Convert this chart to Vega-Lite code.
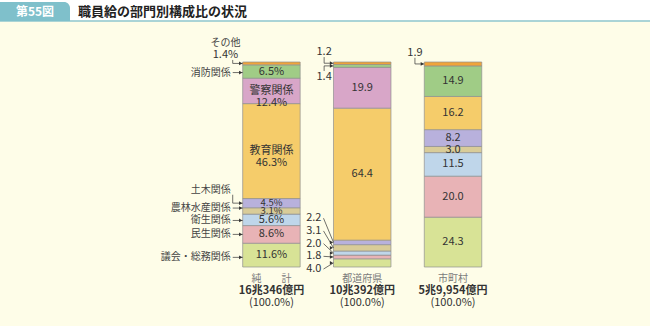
{
  "$schema": "https://vega.github.io/schema/vega-lite/v6.json",
  "width": 650,
  "height": 205,
  "autosize": {"type": "none"},
  "padding": {"left": 0, "top": 62, "right": 0, "bottom": 59},
  "background": "#fefde8",
  "config": {"view": {"stroke": null}, "font": "Noto Sans CJK JP", "text": {"lineBreak": "\n"}},
  "datasets": {
    "shares": [
      {"group": "純計", "category": "議会・総務関係", "value": 11.6},
      {"group": "純計", "category": "民生関係", "value": 8.6},
      {"group": "純計", "category": "衛生関係", "value": 5.6},
      {"group": "純計", "category": "農林水産関係", "value": 3.1},
      {"group": "純計", "category": "土木関係", "value": 4.5},
      {"group": "純計", "category": "教育関係", "value": 46.3},
      {"group": "純計", "category": "警察関係", "value": 12.4},
      {"group": "純計", "category": "消防関係", "value": 6.5},
      {"group": "純計", "category": "その他", "value": 1.4},
      {"group": "都道府県", "category": "議会・総務関係", "value": 4.0},
      {"group": "都道府県", "category": "民生関係", "value": 1.8},
      {"group": "都道府県", "category": "衛生関係", "value": 2.0},
      {"group": "都道府県", "category": "農林水産関係", "value": 3.1},
      {"group": "都道府県", "category": "土木関係", "value": 2.2},
      {"group": "都道府県", "category": "教育関係", "value": 64.4},
      {"group": "都道府県", "category": "警察関係", "value": 19.9},
      {"group": "都道府県", "category": "消防関係", "value": 1.4},
      {"group": "都道府県", "category": "その他", "value": 1.2},
      {"group": "市町村", "category": "議会・総務関係", "value": 24.3},
      {"group": "市町村", "category": "民生関係", "value": 20.0},
      {"group": "市町村", "category": "衛生関係", "value": 11.5},
      {"group": "市町村", "category": "農林水産関係", "value": 3.0},
      {"group": "市町村", "category": "土木関係", "value": 8.2},
      {"group": "市町村", "category": "教育関係", "value": 16.2},
      {"group": "市町村", "category": "消防関係", "value": 14.9},
      {"group": "市町村", "category": "その他", "value": 1.9}
    ],
    "totals": [
      {"group": "純計", "name": "純　　計", "amount": "16兆346億円", "pct": "(100.0%)"},
      {"group": "都道府県", "name": "都道府県", "amount": "10兆392億円", "pct": "(100.0%)"},
      {"group": "市町村", "name": "市町村", "amount": "5兆9,954億円", "pct": "(100.0%)"}
    ]
  },
  "layer": [
    {
      "data": {"values": [{}]},
      "mark": {"type": "rect", "fill": "#ffffff"},
      "encoding": {"x": {"value": 0}, "x2": {"value": 650}, "y": {"value": -62}, "y2": {"value": -41.5}}
    },
    {
      "data": {"values": [{}]},
      "mark": {"type": "rule", "stroke": "#8ec6cf", "strokeWidth": 1.5},
      "encoding": {"x": {"value": 0}, "x2": {"value": 650}, "y": {"value": -41}}
    },
    {
      "data": {"values": [{}]},
      "mark": {"type": "rect", "fill": "#7fc0cb", "cornerRadiusTopRight": 6},
      "encoding": {"x": {"value": 0}, "x2": {"value": 70}, "y": {"value": -60}, "y2": {"value": -41}}
    },
    {
      "data": {"values": [{"t": "第55図"}]},
      "mark": {"type": "text", "fill": "#ffffff", "fontSize": 12, "fontWeight": "bold", "align": "center", "baseline": "middle"},
      "encoding": {"x": {"value": 35}, "y": {"value": -50.5}, "text": {"field": "t"}}
    },
    {
      "data": {"values": [{"t": "職員給の部門別構成比の状況"}]},
      "mark": {"type": "text", "fill": "#222222", "fontSize": 13, "fontWeight": "bold", "align": "left", "baseline": "middle"},
      "encoding": {"x": {"value": 78}, "y": {"value": -50.5}, "text": {"field": "t"}}
    },
    {
      "data": {"name": "shares"},
      "transform": [
        {"calculate": "indexof(['純計','都道府県','市町村'], datum.group)", "as": "gi"},
        {"calculate": "indexof(['議会・総務関係','民生関係','衛生関係','農林水産関係','土木関係','教育関係','警察関係','消防関係','その他'], datum.category)", "as": "k"},
        {"stack": "value", "groupby": ["group"], "sort": [{"field": "k", "order": "ascending"}], "as": ["y0", "y1"]},
        {"calculate": "(datum.y0 + datum.y1) / 2", "as": "mid"},
        {"calculate": "datum.gi", "as": "xl"},
        {"calculate": "datum.gi + 0.633", "as": "xr"},
        {"calculate": "datum.gi + 0.3165", "as": "xc"}
      ],
      "layer": [
        {
          "mark": {"type": "rect", "stroke": "#8f8f8f", "strokeWidth": 0.7},
          "encoding": {
            "x": {"field": "xl", "type": "quantitative", "scale": {"domain": [-2.673, 4.486], "nice": false, "zero": false}, "axis": null},
            "x2": {"field": "xr"},
            "y": {"field": "y0", "type": "quantitative", "scale": {"domain": [0, 100], "nice": false, "zero": false}, "axis": null},
            "y2": {"field": "y1"},
            "fill": {"field": "category", "type": "nominal", "legend": null,
              "scale": {"domain": ["議会・総務関係","民生関係","衛生関係","農林水産関係","土木関係","教育関係","警察関係","消防関係","その他"],
                        "range": ["#d8e396","#e8b3b6","#bfd6ea","#d9cc98","#b8b1dc","#f5cc6a","#d8a6c8","#a0cc86","#f0a43a"]}}
          }
        },
        {
          "transform": [
            {"filter": "(datum.group != '都道府県' && datum.value >= 3) || datum.value >= 10"},
            {"calculate": "datum.group == '純計' ? ((datum.category == '教育関係' || datum.category == '警察関係') ? datum.category + '\\n' : '') + format(datum.value, '.1f') + '%' : format(datum.value, '.1f')", "as": "lab"}
          ],
          "mark": {"type": "text", "align": "center", "baseline": "middle", "lineHeight": 12, "fill": "#333333"},
          "encoding": {
            "x": {"field": "xc", "type": "quantitative", "scale": {"domain": [-2.673, 4.486], "nice": false, "zero": false}, "axis": null},
            "y": {"field": "mid", "type": "quantitative", "scale": {"domain": [0, 100], "nice": false, "zero": false}, "axis": null},
            "size": {"condition": {"test": "datum.group == '純計' && datum.value < 5", "value": 9.5}, "value": 11},
            "text": {"field": "lab"}
          }
        },
        {
          "transform": [
            {"filter": "datum.group == '純計' && indexof(['消防関係','農林水産関係','衛生関係','民生関係','議会・総務関係'], datum.category) >= 0"},
            {"calculate": "datum.xl - 0.11", "as": "ka"},
            {"calculate": "datum.mid + (datum.category == '農林水産関係' ? 1.4 : (datum.category == '議会・総務関係' ? -1.1 : (datum.category == '消防関係' ? -0.5 : (datum.category == '衛生関係' ? -0.3 : 0))))", "as": "ly"}
          ],
          "layer": [
            {
              "mark": {"type": "text", "fontSize": 10, "align": "right", "baseline": "middle", "dx": -12, "fill": "#444444"},
              "encoding": {
                "x": {"field": "xl", "type": "quantitative", "scale": {"domain": [-2.673, 4.486], "nice": false, "zero": false}, "axis": null},
                "y": {"field": "ly", "type": "quantitative", "scale": {"domain": [0, 100], "nice": false, "zero": false}, "axis": null},
                "text": {"field": "category"}
              }
            },
            {
              "mark": {"type": "rule", "stroke": "#333333", "strokeWidth": 0.7},
              "encoding": {
                "x": {"field": "ka", "type": "quantitative", "scale": {"domain": [-2.673, 4.486], "nice": false, "zero": false}, "axis": null},
                "x2": {"field": "xl"},
                "y": {"field": "ly", "type": "quantitative", "scale": {"domain": [0, 100], "nice": false, "zero": false}, "axis": null}
              }
            },
            {
              "mark": {"type": "point", "shape": "triangle-right", "size": 14, "filled": true, "fill": "#333333", "opacity": 1, "strokeWidth": 0, "xOffset": -2},
              "encoding": {
                "x": {"field": "xl", "type": "quantitative", "scale": {"domain": [-2.673, 4.486], "nice": false, "zero": false}, "axis": null},
                "y": {"field": "ly", "type": "quantitative", "scale": {"domain": [0, 100], "nice": false, "zero": false}, "axis": null}
              }
            }
          ]
        },
        {
          "transform": [
            {"filter": "datum.group == '純計' && datum.category == '土木関係'"},
            {"calculate": "datum.xl - 0.11", "as": "ka"},
            {"calculate": "datum.mid + 4.1", "as": "vy"},
            {"calculate": "datum.mid + 6.5", "as": "ty"}
          ],
          "layer": [
            {
              "mark": {"type": "text", "fontSize": 10, "align": "right", "baseline": "middle", "dx": -12, "fill": "#444444"},
              "encoding": {
                "x": {"field": "xl", "type": "quantitative", "scale": {"domain": [-2.673, 4.486], "nice": false, "zero": false}, "axis": null},
                "y": {"field": "ty", "type": "quantitative", "scale": {"domain": [0, 100], "nice": false, "zero": false}, "axis": null},
                "text": {"field": "category"}
              }
            },
            {
              "mark": {"type": "rule", "stroke": "#333333", "strokeWidth": 0.7},
              "encoding": {
                "x": {"field": "ka", "type": "quantitative", "scale": {"domain": [-2.673, 4.486], "nice": false, "zero": false}, "axis": null},
                "y": {"field": "mid", "type": "quantitative", "scale": {"domain": [0, 100], "nice": false, "zero": false}, "axis": null},
                "y2": {"field": "vy"}
              }
            },
            {
              "mark": {"type": "rule", "stroke": "#333333", "strokeWidth": 0.7},
              "encoding": {
                "x": {"field": "ka", "type": "quantitative", "scale": {"domain": [-2.673, 4.486], "nice": false, "zero": false}, "axis": null},
                "x2": {"field": "xl"},
                "y": {"field": "mid", "type": "quantitative", "scale": {"domain": [0, 100], "nice": false, "zero": false}, "axis": null}
              }
            }
          ]
        },
        {
          "transform": [
            {"filter": "datum.group == '純計' && datum.category == 'その他'"},
            {"calculate": "datum.xl - 0.11", "as": "ka"},
            {"calculate": "datum.xl - 0.19", "as": "tx"},
            {"calculate": "datum.mid + 1.7", "as": "vy"},
            {"calculate": "datum.mid + 4.2", "as": "ty"},
            {"calculate": "datum.mid + 9.95", "as": "ny"},
            {"calculate": "format(datum.value, '.1f') + '%'", "as": "lab"}
          ],
          "layer": [
            {
              "mark": {"type": "text", "fontSize": 10, "align": "center", "baseline": "middle", "fill": "#444444"},
              "encoding": {
                "x": {"field": "tx", "type": "quantitative", "scale": {"domain": [-2.673, 4.486], "nice": false, "zero": false}, "axis": null},
                "y": {"field": "ny", "type": "quantitative", "scale": {"domain": [0, 100], "nice": false, "zero": false}, "axis": null},
                "text": {"field": "category"}
              }
            },
            {
              "mark": {"type": "text", "fontSize": 11, "align": "center", "baseline": "middle", "fill": "#333333"},
              "encoding": {
                "x": {"field": "tx", "type": "quantitative", "scale": {"domain": [-2.673, 4.486], "nice": false, "zero": false}, "axis": null},
                "y": {"field": "ty", "type": "quantitative", "scale": {"domain": [0, 100], "nice": false, "zero": false}, "axis": null},
                "text": {"field": "lab"}
              }
            },
            {
              "mark": {"type": "rule", "stroke": "#333333", "strokeWidth": 0.7},
              "encoding": {
                "x": {"field": "ka", "type": "quantitative", "scale": {"domain": [-2.673, 4.486], "nice": false, "zero": false}, "axis": null},
                "y": {"field": "mid", "type": "quantitative", "scale": {"domain": [0, 100], "nice": false, "zero": false}, "axis": null},
                "y2": {"field": "vy"}
              }
            },
            {
              "mark": {"type": "rule", "stroke": "#333333", "strokeWidth": 0.7},
              "encoding": {
                "x": {"field": "ka", "type": "quantitative", "scale": {"domain": [-2.673, 4.486], "nice": false, "zero": false}, "axis": null},
                "x2": {"field": "xl"},
                "y": {"field": "mid", "type": "quantitative", "scale": {"domain": [0, 100], "nice": false, "zero": false}, "axis": null}
              }
            }
          ]
        },
        {
          "transform": [
            {"filter": "datum.group == '都道府県' && datum.k <= 4"},
            {"calculate": "datum.xl - 0.11", "as": "ka"},
            {"calculate": "-1 + datum.k * 6.2", "as": "ly"},
            {"calculate": "format(datum.value, '.1f')", "as": "lab"}
          ],
          "layer": [
            {
              "mark": {"type": "text", "fontSize": 11, "align": "right", "baseline": "middle", "dx": -12, "fill": "#333333"},
              "encoding": {
                "x": {"field": "xl", "type": "quantitative", "scale": {"domain": [-2.673, 4.486], "nice": false, "zero": false}, "axis": null},
                "y": {"field": "ly", "type": "quantitative", "scale": {"domain": [0, 100], "nice": false, "zero": false}, "axis": null},
                "text": {"field": "lab"}
              }
            },
            {
              "mark": {"type": "rule", "stroke": "#333333", "strokeWidth": 0.7},
              "encoding": {
                "x": {"field": "ka", "type": "quantitative", "scale": {"domain": [-2.673, 4.486], "nice": false, "zero": false}, "axis": null},
                "x2": {"field": "xl"},
                "y": {"field": "ly", "type": "quantitative", "scale": {"domain": [0, 100], "nice": false, "zero": false}, "axis": null},
                "y2": {"field": "mid"}
              }
            }
          ]
        },
        {
          "transform": [
            {"filter": "(datum.group == '都道府県' && datum.k >= 7) || (datum.group == '市町村' && datum.k == 8)"},
            {"calculate": "(datum.group == '都道府県' && datum.k == 7) ? -1 : 1", "as": "s"},
            {"calculate": "datum.xl - 0.103", "as": "ka"},
            {"calculate": "datum.mid + (datum.s > 0 ? 3 : -2.5)", "as": "vy"},
            {"calculate": "datum.mid + datum.s * 5.5", "as": "ty"},
            {"calculate": "format(datum.value, '.1f')", "as": "lab"}
          ],
          "layer": [
            {
              "mark": {"type": "text", "fontSize": 11, "align": "center", "baseline": "middle", "fill": "#333333"},
              "encoding": {
                "x": {"field": "ka", "type": "quantitative", "scale": {"domain": [-2.673, 4.486], "nice": false, "zero": false}, "axis": null},
                "y": {"field": "ty", "type": "quantitative", "scale": {"domain": [0, 100], "nice": false, "zero": false}, "axis": null},
                "text": {"field": "lab"}
              }
            },
            {
              "mark": {"type": "rule", "stroke": "#333333", "strokeWidth": 0.7},
              "encoding": {
                "x": {"field": "ka", "type": "quantitative", "scale": {"domain": [-2.673, 4.486], "nice": false, "zero": false}, "axis": null},
                "y": {"field": "mid", "type": "quantitative", "scale": {"domain": [0, 100], "nice": false, "zero": false}, "axis": null},
                "y2": {"field": "vy"}
              }
            },
            {
              "mark": {"type": "rule", "stroke": "#333333", "strokeWidth": 0.7},
              "encoding": {
                "x": {"field": "ka", "type": "quantitative", "scale": {"domain": [-2.673, 4.486], "nice": false, "zero": false}, "axis": null},
                "x2": {"field": "xl"},
                "y": {"field": "mid", "type": "quantitative", "scale": {"domain": [0, 100], "nice": false, "zero": false}, "axis": null}
              }
            }
          ]
        },
        {
          "transform": [
            {"filter": "datum.group == '純計' ? indexof(['土木関係','その他'], datum.category) >= 0 : (datum.group == '都道府県' ? datum.value < 10 : datum.category == 'その他')"}
          ],
          "mark": {"type": "point", "shape": "triangle-right", "size": 14, "filled": true, "fill": "#333333", "opacity": 1, "strokeWidth": 0, "xOffset": -2},
          "encoding": {
            "x": {"field": "xl", "type": "quantitative", "scale": {"domain": [-2.673, 4.486], "nice": false, "zero": false}, "axis": null},
            "y": {"field": "mid", "type": "quantitative", "scale": {"domain": [0, 100], "nice": false, "zero": false}, "axis": null}
          }
        }
      ]
    },
    {
      "data": {"name": "totals"},
      "transform": [
        {"calculate": "indexof(['純計','都道府県','市町村'], datum.group) + 0.3165", "as": "xc"}
      ],
      "layer": [
        {
          "mark": {"type": "text", "fontSize": 10, "align": "center", "baseline": "middle", "dy": 11.7, "fill": "#7a7a7a"},
          "encoding": {
            "x": {"field": "xc", "type": "quantitative", "scale": {"domain": [-2.673, 4.486], "nice": false, "zero": false}, "axis": null},
            "y": {"datum": 0, "type": "quantitative", "scale": {"domain": [0, 100], "nice": false, "zero": false}, "axis": null},
            "text": {"field": "name"}
          }
        },
        {
          "mark": {"type": "text", "fontSize": 11, "fontWeight": "bold", "align": "center", "baseline": "middle", "dy": 23.7, "fill": "#333333"},
          "encoding": {
            "x": {"field": "xc", "type": "quantitative", "scale": {"domain": [-2.673, 4.486], "nice": false, "zero": false}, "axis": null},
            "y": {"datum": 0, "type": "quantitative", "scale": {"domain": [0, 100], "nice": false, "zero": false}, "axis": null},
            "text": {"field": "amount"}
          }
        },
        {
          "mark": {"type": "text", "fontSize": 11, "align": "center", "baseline": "middle", "dy": 35.7, "fill": "#333333"},
          "encoding": {
            "x": {"field": "xc", "type": "quantitative", "scale": {"domain": [-2.673, 4.486], "nice": false, "zero": false}, "axis": null},
            "y": {"datum": 0, "type": "quantitative", "scale": {"domain": [0, 100], "nice": false, "zero": false}, "axis": null},
            "text": {"field": "pct"}
          }
        }
      ]
    }
  ]
}
